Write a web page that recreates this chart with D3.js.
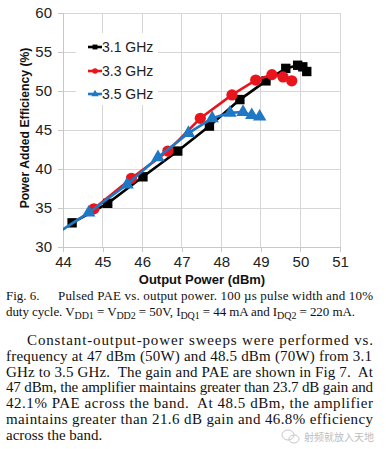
<!DOCTYPE html>
<html>
  <head>
    <meta charset="utf-8">
    <script src="https://cdn.jsdelivr.net/npm/d3@7"></script>
    <style type="text/css">
      body { margin: 0; background: #fff; }
      .axis text { font-family: "Liberation Sans", Arial, sans-serif; font-size: 15px; fill: #222; }
      .axis path, .axis line { stroke: #c8c8c8; shape-rendering: crispEdges; }
      .grid line { stroke: #d6d6d6; shape-rendering: crispEdges; }
      .title { font-family: "Liberation Sans", Arial, sans-serif; font-weight: bold; fill: #111; }
      .serif { font-family: "Liberation Serif", "Times New Roman", serif; fill: #111; }
    </style>
  </head>
  <body>
    <div class="plot_canvas"></div>
    <script>
      // data
      var series = ["3.1 GHz", "3.3 GHz", "3.5 GHz"];
      var pout31 = [44.23, 45.13, 46.02, 46.9, 47.7, 48.47, 49.13, 49.63, 49.93, 50.06, 50.16];
      var pae31  = [33.1, 35.6, 39.0, 42.3, 45.5, 48.9, 51.3, 52.9, 53.3, 53.1, 52.5];
      var pout33 = [44.78, 45.73, 46.65, 47.47, 48.27, 48.87, 49.28, 49.56, 49.78];
      var pae33  = [34.9, 38.8, 42.3, 46.5, 49.5, 51.4, 52.1, 51.8, 51.3];
      var pout35 = [43.8, 44.65, 45.62, 46.4, 47.17, 47.77, 48.22, 48.55, 48.77, 48.97];
      var pae35  = [31.6, 34.4, 38.0, 41.5, 44.6, 46.5, 47.2, 47.3, 46.9, 46.7];
      var xTicks = [44, 45, 46, 47, 48, 49, 50, 51];
      var yTicks = [30, 35, 40, 45, 50, 55, 60];
      var colors = ["#000000", "#e8161c", "#1f78c4"];
      var shapes = [d3.symbolSquare, d3.symbolCircle, d3.symbolTriangle];

      var width = 386, height = 449;
      var margin = {top: 13, right: 46, bottom: 202, left: 63};

      var xScale = d3.scaleLinear().domain([44, 51]).range([margin.left, width - margin.right]);
      var yScale = d3.scaleLinear().domain([30, 60]).range([height - margin.bottom, margin.top]);

      var svg = d3.select(".plot_canvas").append("svg")
        .attr("width", width).attr("height", height);

      svg.append("clipPath").attr("id", "plotclip")
        .append("rect")
        .attr("x", xScale(44)).attr("y", 0)
        .attr("width", xScale(51) - xScale(44) + 10)
        .attr("height", yScale(30));

      // grid
      var grid = svg.append("g").attr("class", "grid");
      grid.selectAll(".v").data(xTicks).enter().append("line")
        .attr("x1", function(d) { return xScale(d); }).attr("x2", function(d) { return xScale(d); })
        .attr("y1", yScale(60)).attr("y2", yScale(30));
      grid.selectAll(".h").data(yTicks).enter().append("line")
        .attr("x1", xScale(44)).attr("x2", xScale(51))
        .attr("y1", function(d) { return yScale(d); }).attr("y2", function(d) { return yScale(d); });

      // axes
      svg.append("g").attr("class", "axis")
        .attr("transform", "translate(0," + yScale(30) + ")")
        .call(d3.axisBottom(xScale).tickValues(xTicks).tickSize(5).tickPadding(4).tickFormat(d3.format("d")));
      svg.append("g").attr("class", "axis")
        .attr("transform", "translate(" + xScale(44) + ",0)")
        .call(d3.axisLeft(yScale).tickValues(yTicks).tickSize(5).tickPadding(6).tickFormat(d3.format("d")));

      // legend box (white, hides grid)
      var legend = svg.append("g");
      legend.append("rect").attr("x", 76).attr("y", 33).attr("width", 82).attr("height", 72).attr("fill", "#fff");

      // series
      var data = [
        d3.zip(pout31, pae31),
        d3.zip(pout33, pae33),
        d3.zip(pout35, pae35)
      ];
      var line = d3.line()
        .x(function(d) { return xScale(d[0]); })
        .y(function(d) { return yScale(d[1]); });
      var plot = svg.append("g").attr("clip-path", "url(#plotclip)");
      var sizes = [88, 100, 78];

      data.forEach(function(s, i) {
        var g = plot.append("g");
        g.append("path")
          .attr("d", line(s))
          .attr("fill", "none")
          .attr("stroke", colors[i])
          .attr("stroke-width", 2.6);
        g.selectAll("path.pt").data(s).enter().append("path")
          .attr("class", "pt")
          .attr("transform", function(d) { return "translate(" + xScale(d[0]) + "," + yScale(d[1]) + ")"; })
          .attr("d", d3.symbol().type(shapes[i]).size(sizes[i]))
          .attr("fill", colors[i]);
      });

      // legend entries
      var legY = [47, 71, 94];
      series.forEach(function(name, i) {
        legend.append("line")
          .attr("x1", 88).attr("x2", 102).attr("y1", legY[i]).attr("y2", legY[i])
          .attr("stroke", colors[i]).attr("stroke-width", 2.6);
        legend.append("path")
          .attr("transform", "translate(95," + legY[i] + ")")
          .attr("d", d3.symbol().type(shapes[i]).size(24))
          .attr("fill", colors[i]);
        legend.append("text")
          .attr("x", 102).attr("y", legY[i]).attr("dy", "0.36em")
          .style("font-family", "'Liberation Sans', Arial, sans-serif")
          .style("font-size", "14px").attr("fill", "#222")
          .text(name);
      });

      // axis titles
      svg.append("text").attr("class", "title")
        .attr("x", 202).attr("y", 284).attr("text-anchor", "middle")
        .style("font-size", "13px")
        .text("Output Power (dBm)");
      svg.append("text").attr("class", "title")
        .attr("transform", "translate(29,128) rotate(-90)")
        .attr("text-anchor", "middle")
        .style("font-size", "12.2px")
        .text("Power Added Efficiency (%)");

      // caption
      var cap = svg.append("g").attr("class", "serif").style("font-size", "13px");
      cap.append("text").attr("x", 6).attr("y", 300).text("Fig. 6.");
      cap.append("text").attr("x", 58).attr("y", 300)
        .attr("textLength", 315).attr("lengthAdjust", "spacing")
        .text("Pulsed PAE vs. output power. 100 \u00b5s pulse width and 10%");
      var c2 = cap.append("text").attr("x", 6).attr("y", 316)
        .attr("textLength", 349).attr("lengthAdjust", "spacing");
      var parts = [["duty cycle. V", 0], ["DD1", 1], [" = V", 0], ["DD2", 1], [" = 50V, I", 0], ["DQ1", 1],
                   [" = 44 mA and I", 0], ["DQ2", 1], [" = 220 mA.", 0]];
      parts.forEach(function(p) {
        var t = c2.append("tspan").text(p[0]);
        if (p[1]) t.attr("baseline-shift", "-3").style("font-size", "10px");
      });

      // body paragraph
      var para = [
        ["Constant-output-power sweeps were performed vs.", 27, 373],
        ["frequency at 47 dBm (50W) and 48.5 dBm (70W) from 3.1", 6, 372],
        ["GHz to 3.5 GHz.  The gain and PAE are shown in Fig 7.  At", 6, 373],
        ["47 dBm, the amplifier maintains greater than 23.7 dB gain and", 6, 373],
        ["42.1% PAE across the band.  At 48.5 dBm, the amplifier", 6, 373],
        ["maintains greater than 21.6 dB gain and 46.8% efficiency", 6, 373],
        ["across the band.", 6, 0]
      ];
      var body = svg.append("g").attr("class", "serif").style("font-size", "15px");
      para.forEach(function(p, i) {
        var t = body.append("text").attr("x", p[1]).attr("y", 345 + i * 15.8)
          .style("white-space", "pre").text(p[0]);
        if (p[2]) t.attr("textLength", p[2] - p[1]).attr("lengthAdjust", "spacing");
      });

      // watermark
      var wm = svg.append("g").attr("opacity", 0.55);
      wm.append("ellipse").attr("cx", 288).attr("cy", 435).attr("rx", 6).attr("ry", 5)
        .attr("fill", "none").attr("stroke", "#999");
      wm.append("ellipse").attr("cx", 294).attr("cy", 439).attr("rx", 5).attr("ry", 4)
        .attr("fill", "none").attr("stroke", "#999");
      wm.append("text").attr("x", 304).attr("y", 441)
        .style("font-family", "'Noto Sans CJK SC', sans-serif").style("font-size", "10px")
        .attr("fill", "#888").text("射频就放入天地");
    </script>
  </body>
</html>
